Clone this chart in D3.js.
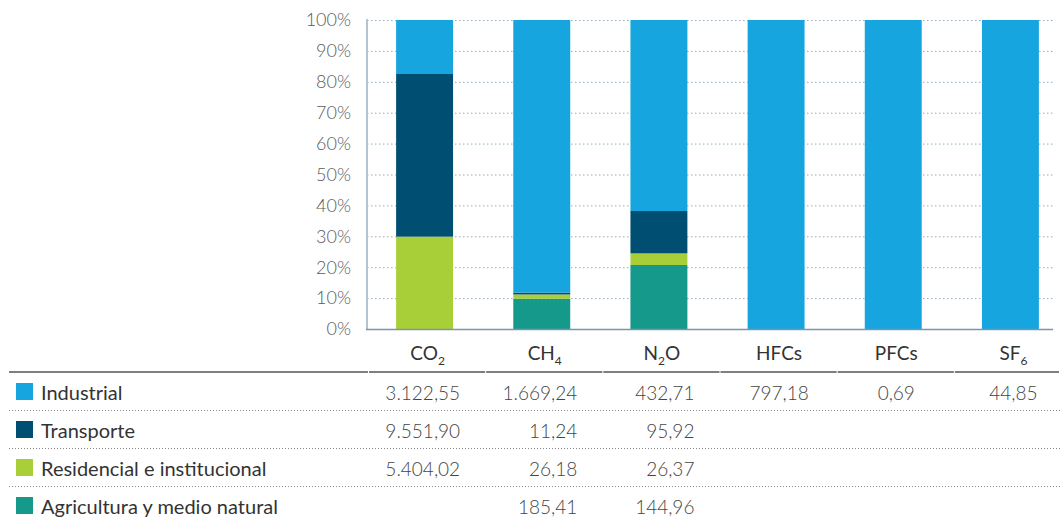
<!DOCTYPE html>
<html><head><meta charset="utf-8">
<script src="https://cdn.jsdelivr.net/npm/d3@7/dist/d3.min.js"></script>
<style>
html,body{margin:0;padding:0;background:#fff;}
svg{display:block;font-family:"Source Sans Pro","Lato","Roboto",sans-serif;}
</style></head>
<body><svg id="chart" width="1060" height="518"></svg>
<script>
// ---- data ----
const categories = ["CO2", "CH4", "N2O", "HFCs", "PFCs", "SF6"];
const categoryBase = ["CO", "CH", "N", "HFCs", "PFCs", "SF"];
const categorySub  = ["2", "4", "2", "", "", "6"];
const categoryTail = ["", "", "O", "", "", ""];
const sectors = ["Industrial", "Transporte", "Residencial e institucional", "Agricultura y medio natural"];
const industrial  = [3122.55, 1669.24, 432.71, 797.18, 0.69, 44.85];
const transporte  = [9551.90, 11.24, 95.92, null, null, null];
const residencial = [5404.02, 26.18, 26.37, null, null, null];
const agricultura = [null, 185.41, 144.96, null, null, null];
const yTicks = [0, 0.1, 0.2, 0.3, 0.4, 0.5, 0.6, 0.7, 0.8, 0.9, 1];
const colors = ["#17a5df", "#004f73", "#a8cf38", "#14998a"];

// ---- setup ----
const svg = d3.select("#chart");
const seriesVals = [industrial, transporte, residencial, agricultura];
const rows = categories.map((c, i) => {
  const o = {cat: c};
  sectors.forEach((s, j) => o[s] = seriesVals[j][i] || 0);
  return o;
});
const stackOrder = [3, 2, 1, 0].map(i => sectors[i]);
const stack = d3.stack().keys(stackOrder).offset(d3.stackOffsetExpand);
const stacked = stack(rows);

const x = d3.scaleBand().domain(categories).range([366, 1069]).paddingInner(0.514).paddingOuter(0.257);
const y = d3.scaleLinear().domain([0, 1]).range([329, 20]);
const plotRight = 1053;
const shift = 3;
const fmt = d3.formatLocale({decimal: ",", thousands: ".", grouping: [3]}).format(",.2f");

// gridlines
svg.append("g").selectAll("line").data(yTicks.filter(t => t > 0)).join("line")
  .attr("x1", 367).attr("x2", plotRight)
  .attr("y1", d => y(d) + 0.5).attr("y2", d => y(d) + 0.5)
  .attr("stroke", "#8eadc6").attr("stroke-width", 1).attr("stroke-dasharray", "1.5,2.5");

// y labels
svg.append("g").selectAll("text").data(yTicks).join("text")
  .attr("x", 351).attr("y", d => y(d)).attr("dy", "0.35em")
  .attr("text-anchor", "end").attr("fill", "#5a5a5a").attr("font-size", 18).attr("font-weight", 300)
  .text(d => d3.format(".0%")(d));

// bars
svg.append("g").selectAll("g").data(stacked).join("g")
  .attr("fill", d => colors[sectors.indexOf(d.key)])
  .selectAll("rect").data(d => d).join("rect")
  .attr("x", d => x(d.data.cat)).attr("width", x.bandwidth())
  .attr("y", d => y(d[1])).attr("height", d => Math.max(0, y(d[0]) - y(d[1])));

// axes lines
svg.append("line").attr("x1", 367).attr("x2", 367).attr("y1", 19).attr("y2", 330)
  .attr("stroke", "#b3c5d3").attr("stroke-width", 2);
svg.append("line").attr("x1", 366).attr("x2", plotRight).attr("y1", 329.5).attr("y2", 329.5)
  .attr("stroke", "#7e95a8").attr("stroke-width", 1.5);

// category labels
const cl = svg.append("g").selectAll("text").data(categories).join("text")
  .attr("x", d => x(d) + x.bandwidth() / 2 + shift).attr("y", 360)
  .attr("text-anchor", "middle").attr("fill", "#333").attr("font-size", 19);
cl.each(function(d, i) {
  const t = d3.select(this);
  t.append("tspan").text(categoryBase[i]);
  if (categorySub[i]) t.append("tspan").attr("font-size", 12).attr("dy", 5).text(categorySub[i]);
  if (categoryTail[i]) t.append("tspan").attr("dy", -5).text(categoryTail[i]);
});

// table
const rowTop = 372, rowH = 38;
const edges = [9].concat(categories.map(c => x(c) - x.step() * x.paddingOuter() + shift), [1060]);
const segs = d3.pairs(edges);
svg.append("g").selectAll("line").data(segs).join("line")
  .attr("x1", d => d[0]).attr("x2", d => d[1] - 1)
  .attr("y1", rowTop).attr("y2", rowTop)
  .attr("stroke", "#555").attr("stroke-width", 1.5);
svg.append("g").selectAll("line").data([1, 2, 3]).join("line")
  .attr("x1", 9).attr("x2", 1060)
  .attr("y1", d => rowTop + d * rowH + 0.5).attr("y2", d => rowTop + d * rowH + 0.5)
  .attr("stroke", "#8a8a8a").attr("stroke-width", 1).attr("stroke-dasharray", "1,2");

const rg = svg.append("g").selectAll("g").data(sectors).join("g")
  .attr("transform", (d, i) => `translate(0,${rowTop + i * rowH})`);
rg.append("rect").attr("x", 16).attr("y", 11).attr("width", 17).attr("height", 17)
  .attr("fill", (d, i) => colors[i]);
rg.append("text").attr("x", 41).attr("y", 28).attr("fill", "#333").attr("font-size", 20)
  .text(d => d);
rg.each(function(s, j) {
  const g = d3.select(this);
  categories.forEach((c, i) => {
    const v = seriesVals[j][i];
    if (v == null) return;
    const multi = seriesVals.filter(a => a[i] != null).length > 1;
    const cx = x(c) + x.bandwidth() / 2;
    g.append("text")
      .attr("x", multi ? cx + 35.5 : cx + shift)
      .attr("y", 28).attr("text-anchor", multi ? "end" : "middle")
      .attr("fill", "#444").attr("font-size", 19).attr("font-weight", 300)
      .text(fmt(v));
  });
});
</script></body></html>
